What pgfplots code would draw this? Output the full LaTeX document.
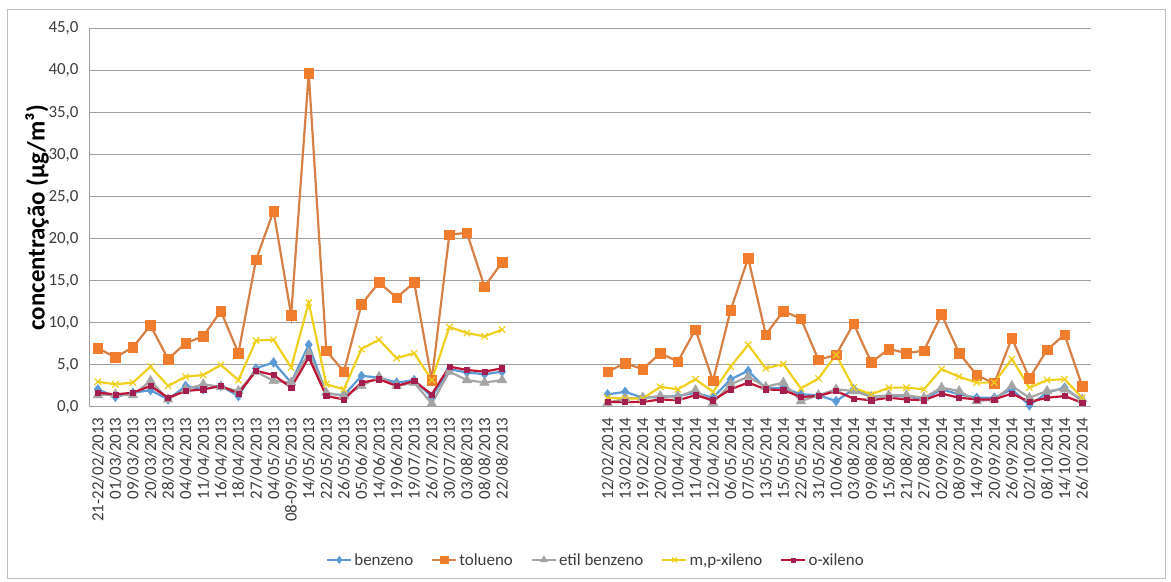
\documentclass[border=0pt]{standalone}
\usepackage{pgfplots}
\pgfplotsset{compat=1.18}
\usepackage{pgfplotstable}
\usepackage{fontspec}
\setmainfont{Carlito}

\definecolor{cBen}{RGB}{91,155,213}
\definecolor{cTol}{RGB}{240,125,45}
\definecolor{cTolLine}{RGB}{214,128,70}
\definecolor{cEtil}{RGB}{165,165,165}
\definecolor{cMP}{RGB}{240,208,30}
\definecolor{cOx}{RGB}{192,20,55}
\definecolor{cOxMark}{RGB}{165,30,80}
\definecolor{cGrid}{RGB}{160,160,160}
\definecolor{cFrame}{RGB}{190,190,190}
\definecolor{cTxt}{RGB}{60,60,60}

% concentrations (ug/m3); x = category index, row 24 breaks the series between campaigns
\pgfplotstableread{
x   ben  tol   etil mp   ox
0   2.1  7.0   1.4  3.0  1.7
1   1.2  5.9   1.5  2.7  1.5
2   1.7  7.1   1.4  2.9  1.7
3   2.0  9.7   3.1  4.8  2.5
4   0.9  5.7   0.9  2.5  1.1
5   2.5  7.6   2.1  3.6  1.9
6   2.1  8.4   2.7  3.8  2.1
7   2.5  11.4  2.4  5.0  2.5
8   1.3  6.4   1.9  3.2  1.6
9   4.6  17.5  4.2  7.9  4.3
10  5.3  23.3  3.1  8.0  3.8
11  2.9  10.9  2.9  4.7  2.3
12  7.4  39.7  6.4  12.4 5.9
13  1.6  6.7   1.7  2.7  1.3
14  1.4  4.2   1.3  2.1  0.9
15  3.7  12.2  2.5  6.9  2.9
16  3.5  14.8  3.6  8.0  3.3
17  2.9  13.0  2.5  5.8  2.5
18  3.2  14.8  2.9  6.4  3.1
19  1.2  3.2   0.4  3.2  1.5
20  4.5  20.5  4.2  9.5  4.8
21  4.1  20.7  3.2  8.8  4.4
22  3.9  14.3  2.9  8.4  4.2
23  4.2  17.2  3.2  9.2  4.6
24  nan  nan   nan  nan  nan
29  1.5  4.2   0.5  1.1  0.6
30  1.8  5.2   1.0  1.0  0.6
31  1.1  4.5   1.1  1.0  0.6
32  1.2  6.4   1.3  2.4  0.9
33  1.3  5.4   1.2  2.1  0.8
34  1.7  9.2   2.0  3.3  1.4
35  1.1  3.1   0.5  1.8  0.8
36  3.3  11.5  2.7  4.8  2.1
37  4.3  17.7  3.6  7.4  2.9
38  2.2  8.6   2.4  4.6  2.1
39  2.3  11.4  2.9  5.1  2.0
40  1.5  10.5  0.7  2.2  1.2
41  1.4  5.6   1.4  3.4  1.3
42  0.7  6.2   2.1  6.2  1.9
43  2.1  9.9   1.9  2.3  1.0
44  1.2  5.3   1.2  1.5  0.8
45  1.3  6.9   1.4  2.3  1.1
46  1.3  6.4   1.4  2.3  0.9
47  0.9  6.7   1.1  2.1  0.8
48  2.1  11.0  2.3  4.5  1.6
49  1.5  6.4   1.9  3.6  1.1
50  1.1  3.8   0.7  2.9  0.9
51  1.1  2.8   0.9  2.9  0.9
52  2.1  8.2   2.5  5.7  1.6
53  0.2  3.4   1.1  2.3  0.6
54  1.7  6.8   1.9  3.2  1.1
55  2.3  8.6   2.1  3.3  1.3
56  0.7  2.5   0.9  1.1  0.5
}\voc

\begin{document}
\begin{tikzpicture}[x=1bp,y=1bp]
% page extent
\path (0,0) rectangle (1171,582);
\draw[cFrame, line width=0.9bp] (7.3,4) rectangle (1165,572.7);
\begin{axis}[
  at={(89bp,175bp)}, anchor=south west,
  scale only axis, width=1002bp, height=378.5bp,
  xmin=-0.5, xmax=56.5, ymin=0, ymax=45,
  unbounded coords=jump,
  axis lines*=left,
  axis line style={cGrid, line width=1bp},
  ymajorgrids, grid style={cGrid, line width=1bp},
  major tick length=0pt,
  ytick={0,5,...,45},
  /pgf/number format/.cd, fixed, fixed zerofill, precision=1, use comma, assume math mode=true,
  /pgfplots/.cd,
  yticklabel style={font=\fontsize{17}{20}\selectfont, text=cTxt, xshift=-7bp},
  xtick={0,1,...,23,29,30,...,56},
  xticklabels={21-22/02/2013,01/03/2013,09/03/2013,20/03/2013,28/03/2013,04/04/2013,11/04/2013,16/04/2013,18/04/2013,27/04/2013,04/05/2013,08-09/05/2013,14/05/2013,22/05/2013,26/05/2013,05/06/2013,14/06/2013,19/06/2013,19/07/2013,26/07/2013,30/07/2013,03/08/2013,08/08/2013,22/08/2013,
    12/02/2014,13/02/2014,19/02/2014,20/02/2014,10/04/2014,11/04/2014,12/04/2014,06/05/2014,07/05/2014,13/05/2014,15/05/2014,22/05/2014,31/05/2014,10/06/2014,03/08/2014,09/08/2014,15/08/2014,21/08/2014,27/08/2014,02/09/2014,08/09/2014,14/09/2014,20/09/2014,26/09/2014,02/10/2014,08/10/2014,14/10/2014,26/10/2014},
  xticklabel style={yshift=-7bp, rotate=90, anchor=east, font=\fontsize{17}{20}\selectfont, text=cTxt},
  every axis y label/.style={at={(axis description cs:-0.0519,0.5)}, rotate=90, anchor=center},
  ylabel={\fontsize{25}{28}\selectfont\bfseries concentração (µg/m³)},
  legend columns=5,
  legend style={at={(0.506,-0.404)}, anchor=center, draw=none, fill=none,
    font=\fontsize{17}{20}\selectfont, text=cTxt,
    /tikz/every even column/.append style={column sep=16bp}},
  legend image code/.code={\draw[mark repeat=2, mark phase=2, #1, /tikz/every mark/.append style={scale=0.75}] plot coordinates {(0bp,0bp) (12bp,0bp) (24bp,0bp)};},
]
\addplot[cBen, line width=2.2bp, mark=diamond*, mark size=4.8bp,
  mark options={fill=cBen, draw=cBen, line width=0.5bp}] table[x=x, y=ben]{\voc};
\addlegendentry{benzeno}
\addplot[cTolLine, line width=2.2bp, mark=square*, mark size=4.8bp,
  mark options={fill=cTol, draw=cTol, line width=0.5bp}] table[x=x, y=tol]{\voc};
\addlegendentry{tolueno}
\addplot[cEtil, line width=2.2bp, mark=triangle*, mark size=5.5bp,
  mark options={fill=cEtil, draw=cEtil, line width=0.5bp}] table[x=x, y=etil]{\voc};
\addlegendentry{etil benzeno}
\addplot[cMP, line width=2.2bp, mark=x, mark size=4.5bp,
  mark options={draw=cMP, line width=1.2bp}] table[x=x, y=mp]{\voc};
\addlegendentry{m,p-xileno}
\addplot[cOx, line width=2.2bp, mark=square*, mark size=2.6bp,
  mark options={fill=cOxMark, draw=cOxMark, line width=0.5bp}] table[x=x, y=ox]{\voc};
\addlegendentry{o-xileno}
\end{axis}
\end{tikzpicture}
\end{document}
